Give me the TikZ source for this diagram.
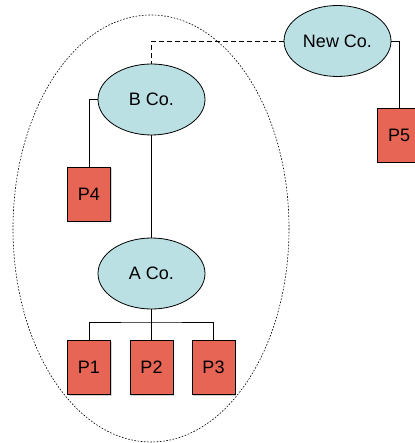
\documentclass[tikz,border=0pt]{standalone}
\usepackage{fontspec}
\setmainfont{Liberation Sans}
\usetikzlibrary{shapes.geometric,shadows}
\definecolor{coblue}{HTML}{BAE0E3}
\definecolor{pred}{HTML}{E66554}
\tikzset{
  company/.style={ellipse, draw, fill=coblue, line width=0.8pt, minimum width=107pt, minimum height=71pt, inner sep=0pt, font=\fontsize{18}{20}\selectfont},
  pbox/.style={rectangle, draw, fill=pred, line width=0.8pt, minimum width=43pt, minimum height=54pt, inner sep=0pt, font=\fontsize{18}{20}\selectfont, drop shadow={shadow xshift=1pt, shadow yshift=-1pt, opacity=0.35}},
  link/.style={line width=0.8pt}
}
\begin{document}
\begin{tikzpicture}[x=1pt,y=-1pt]
\useasboundingbox (0,0) rectangle (414,443);
\draw[line width=0.6pt, dash pattern=on 1.6pt off 1.6pt] (151,228.5) ellipse (138 and 213.5);
\node[company] (newco) at (337.5,41){New Co.};
\node[company] (bco) at (151.5,99.5){B Co.};
\node[company] (aco) at (151.5,273.5){A Co.};
\node[pbox] (p4) at (89,194){P4};
\node[pbox] (p5) at (399,135){P5};
\node[pbox] (p1) at (89,367.5){P1};
\node[pbox] (p2) at (151.5,367.5){P2};
\node[pbox] (p3) at (213.5,367.5){P3};
\coordinate (bus) at (151.5,322);
\draw[link, dash pattern=on 5pt off 3pt](newco.west) -| (bco.north);
\draw[link](newco.east) -| (p5.north);
\draw[link](bco.west) -| (p4.north);
\draw[link](bco.south) -- (aco.north);
\draw[link](aco.south) -- (p2.north);
\draw[link](p1.north) |- (bus) -| (p3.north);

\end{tikzpicture}
\end{document}
